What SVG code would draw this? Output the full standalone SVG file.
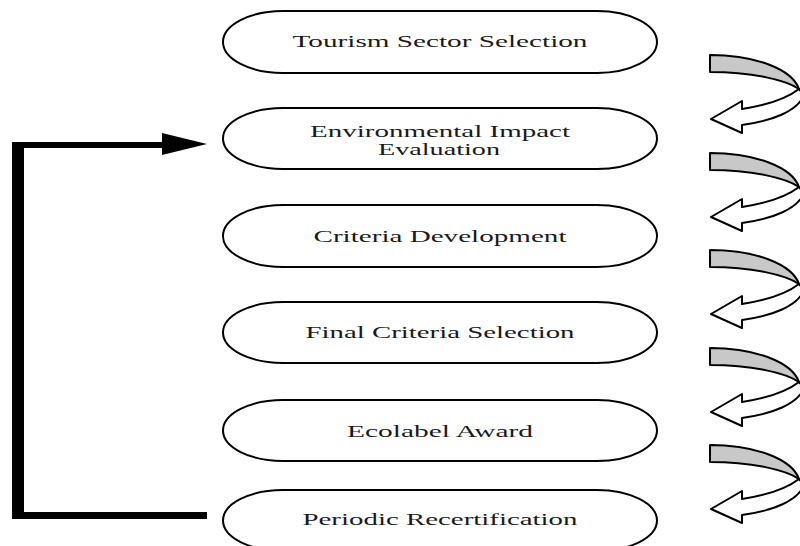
<svg xmlns="http://www.w3.org/2000/svg" width="800" height="546" viewBox="0 0 800 546">
<style>
.node rect{fill:#fff;stroke:#000;stroke-width:2}
.node text{font-family:"Liberation Serif","Times New Roman",serif;font-size:17px;fill:#1a1a1a;text-anchor:middle}
.node text.two{font-size:16px}
.conn{stroke:#000;fill:none}
.gray{fill:#c8c8c8;stroke:#000;stroke-width:2;stroke-linejoin:round}
.white{fill:#fff;stroke:#000;stroke-width:2;stroke-linejoin:round}
</style>
<defs>
<g id="uturn">
<path class="white" d="M89,34 C76,44 58,50 32,54 L32,46 L1,64 L32,78 L32,70 C62,66 88,56 94,40 Z"/>
<path class="gray" d="M0,0 C45,0 82,14 89,34 C76,25 42,17 0,17 Z"/>
</g>
</defs>
<rect width="800" height="546" fill="#fff"/>
<g id="n1" class="node"><rect x="223" y="11" width="434" height="62" rx="60" ry="31"/><text x="440" y="47" textLength="295" lengthAdjust="spacingAndGlyphs">Tourism Sector Selection</text></g>
<g id="n2" class="node"><rect x="223" y="108" width="434" height="61" rx="60" ry="30.5"/><text class="two" x="440" y="137" textLength="260" lengthAdjust="spacingAndGlyphs">Environmental Impact</text><text class="two" x="439" y="155" textLength="122" lengthAdjust="spacingAndGlyphs">Evaluation</text></g>
<g id="n3" class="node"><rect x="223" y="205" width="434" height="62" rx="60" ry="31"/><text x="440" y="242" textLength="253" lengthAdjust="spacingAndGlyphs">Criteria Development</text></g>
<g id="n4" class="node"><rect x="223" y="302" width="434" height="61" rx="60" ry="30.5"/><text x="440" y="338" textLength="269" lengthAdjust="spacingAndGlyphs">Final Criteria Selection</text></g>
<g id="n5" class="node"><rect x="223" y="400" width="434" height="61" rx="60" ry="30.5"/><text x="440" y="437" textLength="186" lengthAdjust="spacingAndGlyphs">Ecolabel Award</text></g>
<g id="n6" class="node"><rect x="223" y="490" width="434" height="61" rx="60" ry="30.5"/><text x="440" y="525" textLength="275" lengthAdjust="spacingAndGlyphs">Periodic Recertification</text></g>
<g id="connectors">
<line class="conn" x1="18" y1="142" x2="18" y2="519" stroke-width="12"/>
<line class="conn" x1="12" y1="145" x2="166" y2="145" stroke-width="6"/>
<line class="conn" x1="12" y1="515.5" x2="207" y2="515.5" stroke-width="7"/>
<polygon points="162,133 207,144 162,155" fill="#000"/>
<use href="#uturn" x="710" y="55"/>
<use href="#uturn" x="710" y="153"/>
<use href="#uturn" x="710" y="250"/>
<use href="#uturn" x="710" y="348"/>
<use href="#uturn" x="710" y="445"/>
</g>
</svg>
